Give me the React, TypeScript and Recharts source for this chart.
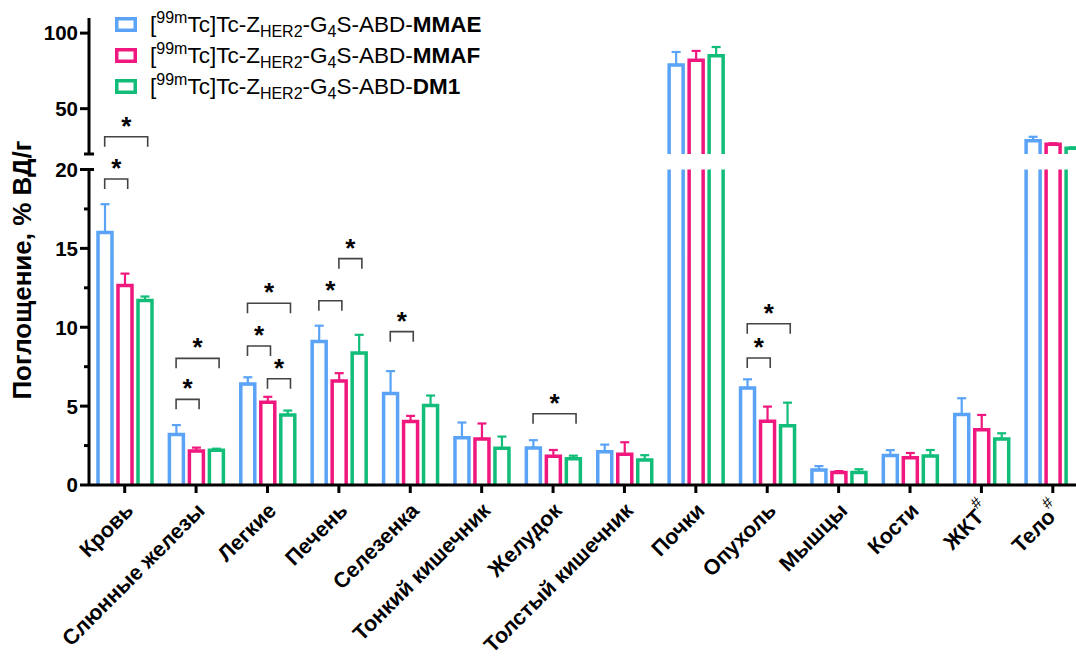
import React from 'react';
import { BarChart, Bar, XAxis, YAxis, ErrorBar, ReferenceDot } from 'recharts';

const organs = [
  'Кровь', 'Слюнные железы', 'Легкие', 'Печень', 'Селезенка', 'Тонкий кишечник', 'Желудок',
  'Толстый кишечник', 'Почки', 'Опухоль', 'Мышцы', 'Кости', 'ЖКТ', 'Тело',
];
// organs marked with # in the figure
const markedOrgans = ['ЖКТ', 'Тело'];

const mmae = [16.0, 3.2, 6.4, 9.1, 5.8, 3.0, 2.35, 2.1, 78.9, 6.15, 0.95, 1.87, 4.47, 28.8];
const mmaeSd = [1.8, 0.6, 0.43, 1.0, 1.42, 0.96, 0.49, 0.46, 8.6, 0.55, 0.25, 0.34, 1.03, 2.6];
const mmaf = [12.65, 2.15, 5.25, 6.6, 4.02, 2.92, 1.82, 1.95, 82.0, 4.04, 0.8, 1.73, 3.51, 26.4];
const mmafSd = [0.75, 0.22, 0.34, 0.49, 0.36, 0.98, 0.4, 0.76, 6.2, 0.93, 0.08, 0.3, 0.93, 0.7];
const dm1 = [11.7, 2.2, 4.44, 8.36, 5.04, 2.33, 1.67, 1.59, 85.1, 3.75, 0.8, 1.84, 2.92, 23.8];
const dm1Sd = [0.25, 0.1, 0.28, 1.16, 0.63, 0.74, 0.19, 0.3, 5.7, 1.47, 0.2, 0.38, 0.36, 0.6];

// axis break: lower part 0..20, upper part 20..110
const breakAt = 20;
const upperMax = 110;
const lowTicks = [0, 2.5, 5, 7.5, 10, 12.5, 15, 17.5, 20];
const highTicks = [20, 50, 100];

// significance brackets (* p < 0.05): bar index from/to within the group, height in % ID/g
const brackets = [
  { organ: 'Кровь', from: 0, to: 1, level: 19.4 },
  { organ: 'Кровь', from: 0, to: 2, level: 31.4 },
  { organ: 'Слюнные железы', from: 0, to: 1, level: 5.43 },
  { organ: 'Слюнные железы', from: 0, to: 2, level: 8.03 },
  { organ: 'Легкие', from: 0, to: 1, level: 8.81 },
  { organ: 'Легкие', from: 0, to: 2, level: 11.52 },
  { organ: 'Легкие', from: 1, to: 2, level: 6.74 },
  { organ: 'Печень', from: 0, to: 1, level: 11.68 },
  { organ: 'Печень', from: 1, to: 2, level: 14.35 },
  { organ: 'Селезенка', from: 0, to: 1, level: 9.72 },
  { organ: 'Желудок', from: 0, to: 2, level: 4.52 },
  { organ: 'Опухоль', from: 0, to: 1, level: 8.05 },
  { organ: 'Опухоль', from: 0, to: 2, level: 10.22 },
];

const series = [
  { key: 'mmae', name: 'MMAE', color: '#5aa3f6', values: mmae, sd: mmaeSd },
  { key: 'mmaf', name: 'MMAF', color: '#f0187e', values: mmaf, sd: mmafSd },
  { key: 'dm1', name: 'DM1', color: '#12bd79', values: dm1, sd: dm1Sd },
];

const FONT = "'Liberation Sans', Arial, Helvetica, sans-serif";
const BAR = 14;
const GAP = 6;

// lower panel keeps all values (tall bars are clipped), upper panel only the ones above the break
const lowRows = organs.map((organ, i) => {
  const row: any = { organ };
  series.forEach((s) => {
    row[s.key] = s.values[i];
    row[s.key + 'Sd'] = s.values[i] > breakAt ? null : s.sd[i];
  });
  return row;
});
const highRows = organs.map((organ, i) => {
  const row: any = { organ };
  series.forEach((s) => {
    row[s.key] = s.values[i] > breakAt ? s.values[i] : null;
    row[s.key + 'Sd'] = s.values[i] > breakAt ? s.sd[i] : null;
  });
  return row;
});

const OpenBar = (props: any) => {
  const { x, y, width, height, color } = props;
  if (x == null || y == null || !width || !height) return null;
  return (
    <path
      d={`M${x},${y + height} L${x},${y} L${x + width},${y} L${x + width},${y + height}`}
      fill="#fff"
      stroke={color}
      strokeWidth={3.5}
    />
  );
};

const tickText = { fontFamily: FONT, fontSize: 20.5, fontWeight: 700, fill: '#000' };

const LowTick = ({ x, y, payload }: any) => {
  const v = payload.value;
  const major = v % 5 === 0;
  return (
    <g>
      <line x1={x - (major ? 9 : 5)} x2={v === breakAt ? x + 5 : x} y1={y} y2={y} stroke="#000" strokeWidth={3} />
      {major && (
        <text x={x - 11} y={y} dy="0.36em" textAnchor="end" style={tickText}>{v}</text>
      )}
    </g>
  );
};

const HighTick = ({ x, y, payload }: any) => {
  const v = payload.value;
  if (v === breakAt) {
    return <line x1={x - 5} x2={x + 5} y1={y} y2={y} stroke="#000" strokeWidth={3} />;
  }
  return (
    <g>
      <line x1={x - 9} x2={x} y1={y} y2={y} stroke="#000" strokeWidth={3} />
      <text x={x - 11} y={y} dy="0.36em" textAnchor="end" style={tickText}>{v}</text>
    </g>
  );
};

const OrganTick = ({ x, y, payload }: any) => {
  const label = payload.value;
  const marked = markedOrgans.includes(label);
  return (
    <g transform={`translate(${x + 10},${y + 19}) rotate(-45)`}>
      <text textAnchor="end" style={{ fontFamily: FONT, fontSize: 21.5, fontWeight: 700, fill: '#000' }}>
        {label}
        {marked && <tspan fontSize={16} fontWeight={400} dy={-12}>#</tspan>}
      </text>
    </g>
  );
};

const AxisTitle = () => (
  <text
    x={31}
    y={270}
    transform="rotate(-90, 31, 270)"
    textAnchor="middle"
    style={{ fontFamily: FONT, fontSize: 26, fontWeight: 700, fill: '#000' }}
  >
    Поглощение, % ВД/г
  </text>
);

const BracketMark = (from: number, to: number) => (props: any) => {
  const { cx, cy } = props;
  if (cx == null || cy == null) return <g />;
  const step = BAR + GAP;
  const xa = cx + (from - 1) * step;
  const xb = cx + (to - 1) * step + 3;
  return (
    <g>
      <path d={`M${xa},${cy + 10} L${xa},${cy} L${xb},${cy} L${xb},${cy + 10}`} fill="none" stroke="#444" strokeWidth={1.6} />
      <text x={(xa + xb) / 2} y={cy - 2} textAnchor="middle" style={{ fontFamily: FONT, fontSize: 26, fontWeight: 700, fill: '#000' }}>*</text>
    </g>
  );
};

const renderBars = () =>
  series.map((s) => (
    <Bar
      key={s.key}
      dataKey={s.key}
      fill="#fff"
      stroke={s.color}
      isAnimationActive={false}
      shape={(p: any) => <OpenBar {...p} color={s.color} />}
    >
      <ErrorBar
        dataKey={(row: any) => (row[s.key + 'Sd'] == null ? null : [0, row[s.key + 'Sd']])}
        direction="y"
        width={4.5}
        strokeWidth={2.2}
        stroke={s.color}
        isAnimationActive={false}
      />
    </Bar>
  ));

const renderBrackets = (inUpper: boolean) =>
  brackets
    .filter((b) => (b.level > breakAt) === inUpper)
    .map((b, i) => (
      <ReferenceDot
        key={i}
        x={b.organ}
        y={b.level}
        r={0}
        shape={BracketMark(b.from, b.to)}
      />
    ));

const sup = { fontSize: 16, verticalAlign: '0.55em' };
const sub = { fontSize: 16, verticalAlign: '-0.3em' };

const Legend = () => (
  <div style={{ position: 'absolute', left: 115, top: 9, fontFamily: FONT, fontSize: 22.5, color: '#000' }}>
    {series.map((s) => (
      <div key={s.key} style={{ display: 'flex', alignItems: 'center', height: 31 }}>
        <svg width={22} height={16}>
          <rect x={1.75} y={1.75} width={18.5} height={11.5} fill="#fff" stroke={s.color} strokeWidth={3.5} />
        </svg>
        <span style={{ marginLeft: 13, whiteSpace: 'nowrap', lineHeight: 1 }}>
          [<span style={sup}>99m</span>Tc]Tc-Z<span style={sub}>HER2</span>-G<span style={sub}>4</span>S-ABD-<b>{s.name}</b>
        </span>
      </div>
    ))}
  </div>
);

export default function App() {
  const W = 1088.5;
  const H = 657;
  return (
    <div style={{ position: 'absolute', left: 0, top: 0, width: 1076, height: 657, overflow: 'hidden', background: '#fff' }}>
      <div style={{ position: 'absolute', left: 0, top: 0 }}>
        <BarChart width={W} height={H} data={highRows} margin={{ top: 18, right: 0, bottom: 503, left: 0 }} barSize={BAR} barGap={GAP}>
          <XAxis dataKey="organ" hide />
          <YAxis
            width={89}
            domain={[breakAt, upperMax]}
            allowDataOverflow
            ticks={highTicks}
            interval={0}
            tickLine={false}
            tickSize={0}
            tickMargin={0}
            axisLine={{ stroke: '#000', strokeWidth: 3 }}
            tick={<HighTick />}
          />
          {renderBars()}
          {renderBrackets(true)}
        </BarChart>
      </div>
      <div style={{ position: 'absolute', left: 0, top: 0 }}>
        <BarChart width={W} height={H} data={lowRows} margin={{ top: 169.5, right: 0, bottom: 0, left: 0 }} barSize={BAR} barGap={GAP}>
          <XAxis
            dataKey="organ"
            height={172}
            interval={0}
            axisLine={{ stroke: '#000', strokeWidth: 3 }}
            tickLine={{ stroke: '#000', strokeWidth: 3 }}
            tickSize={8}
            tickMargin={0}
            tick={<OrganTick />}
          />
          <YAxis
            width={89}
            domain={[0, breakAt]}
            allowDataOverflow
            ticks={lowTicks}
            interval={0}
            tickLine={false}
            tickSize={0}
            tickMargin={0}
            axisLine={{ stroke: '#000', strokeWidth: 3 }}
            tick={<LowTick />}
            label={<AxisTitle />}
          />
          {renderBars()}
          {renderBrackets(false)}
        </BarChart>
      </div>
      <Legend />
    </div>
  );
}
